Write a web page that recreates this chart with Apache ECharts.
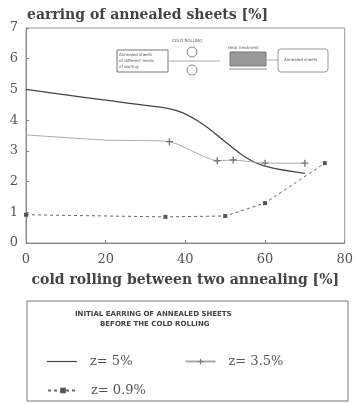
<!DOCTYPE html>
<html><head><meta charset="utf-8">
<script src="https://cdn.jsdelivr.net/npm/echarts@6/dist/echarts.min.js"></script>
<style>html,body{margin:0;padding:0;background:#fff}#c{width:356px;height:404px}</style>
</head><body><div id="c"></div>
<script>
const xTicks = [0, 20, 40, 60, 80];
const yTicks = [0, 1, 2, 3, 4, 5, 6, 7];
const seriesNames = ['z= 5%', 'z= 3.5%', 'z= 0.9%'];
const z5 = [[0, 5.0], [10, 4.82], [20, 4.65], [30, 4.48], [38, 4.3], [44, 3.9], [50, 3.3], [55, 2.8], [60, 2.5], [70, 2.27]];
const z35 = [[0, 3.52], [20, 3.35], [36, 3.3], [48, 2.68], [52, 2.7], [60, 2.6], [70, 2.6]];
const z35Markers = [36, 48, 52, 60, 70];
const z09 = [[0, 0.92], [35, 0.85], [50, 0.88], [60, 1.3], [75, 2.6]];

const plus = 'path://M4,0L6,0L6,4L10,4L10,6L6,6L6,10L4,10L4,6L0,6L0,4L4,4Z';
const hline = 'path://M0,4.4L30,4.4L30,5.6L0,5.6Z';
const chart = echarts.init(document.getElementById('c'));
const serif = 'DejaVu Serif';
chart.setOption({
  animation: false,
  backgroundColor: '#fff',
  title: {
    text: 'earring of annealed sheets [%]',
    left: 22, top: 3,
    textStyle: { fontFamily: serif, fontSize: 14, fontWeight: 'bold', color: '#444' }
  },
  grid: { left: 26, right: 8, top: 28, bottom: 161, show: true, borderColor: '#999', borderWidth: 1 },
  xAxis: {
    type: 'value', min: 0, max: 80, interval: 20,
    name: 'cold rolling between two annealing [%]',
    nameLocation: 'middle', nameGap: 30,
    nameTextStyle: { fontFamily: serif, fontSize: 14, fontWeight: 'bold', color: '#444' },
    axisLine: { lineStyle: { color: '#888' } },
    axisTick: { inside: true, length: 3, lineStyle: { color: '#888' } },
    axisLabel: { fontFamily: serif, fontSize: 13, color: '#555', margin: 10 },
    splitLine: { show: false }
  },
  yAxis: {
    type: 'value', min: 0, max: 7, interval: 1,
    axisLine: { show: true, lineStyle: { color: '#888' } },
    axisTick: { show: true, inside: true, length: 3, lineStyle: { color: '#888' } },
    axisLabel: { fontFamily: serif, fontSize: 13, color: '#555', margin: 8 },
    splitLine: { show: false }
  },
  legend: [
    { data: [{ name: seriesNames[0], icon: hline }, seriesNames[1]], left: 42, top: 350, itemGap: 52, itemWidth: 30, itemHeight: 7,
      textStyle: { fontFamily: serif, fontSize: 13, color: '#555', padding: [0, 0, 0, 8] } },
    { data: [seriesNames[2]], left: 42, top: 379, itemWidth: 30, itemHeight: 7,
      textStyle: { fontFamily: serif, fontSize: 13, color: '#555', padding: [0, 0, 0, 8] } }
  ],
  graphic: [
    { type: 'rect', shape: { x: 27, y: 301, width: 321, height: 100 }, style: { fill: 'none', stroke: '#777', lineWidth: 1 } },
    { type: 'text', left: 75, top: 311, style: { text: 'INITIAL EARRING OF ANNEALED SHEETS', font: 'bold 7px "DejaVu Sans"', fill: '#444' } },
    { type: 'text', left: 100, top: 321, style: { text: 'BEFORE THE COLD ROLLING', font: 'bold 7px "DejaVu Sans"', fill: '#444' } },
    // inset diagram
    { type: 'rect', shape: { x: 117, y: 50, width: 51, height: 22 }, style: { fill: '#fff', stroke: '#777', lineWidth: 1 } },
    { type: 'text', x: 119, y: 52, style: { text: 'Annealed sheets\nof different levels\nof earring', font: '4px "DejaVu Sans"', fill: '#555', lineHeight: 6 } },
    { type: 'text', x: 172, y: 39, style: { text: 'COLD ROLLING', font: '4px "DejaVu Sans"', fill: '#555' } },
    { type: 'circle', shape: { cx: 192, cy: 52, r: 5 }, style: { fill: '#fff', stroke: '#888' } },
    { type: 'circle', shape: { cx: 192, cy: 70, r: 5 }, style: { fill: '#fff', stroke: '#888' } },
    { type: 'line', shape: { x1: 168, y1: 61, x2: 220, y2: 61 }, style: { stroke: '#aaa', lineWidth: 1 } },
    { type: 'text', x: 228, y: 46, style: { text: 'Heat treatment', font: '4px "DejaVu Sans"', fill: '#555' } },
    { type: 'rect', shape: { x: 230, y: 52, width: 36, height: 14 }, style: { fill: '#999', stroke: '#777' } },
    { type: 'line', shape: { x1: 229, y1: 69, x2: 267, y2: 69 }, style: { stroke: '#888', lineWidth: 1 } },
    { type: 'line', shape: { x1: 267, y1: 60, x2: 278, y2: 60 }, style: { stroke: '#aaa', lineWidth: 1 } },
    { type: 'rect', shape: { x: 278, y: 49, width: 50, height: 23, r: 3 }, style: { fill: '#fff', stroke: '#999' } },
    { type: 'text', x: 284, y: 58, style: { text: 'Annealed sheets', font: '4px "DejaVu Sans"', fill: '#555' } }
  ],
  series: [
    { name: seriesNames[0], type: 'line', data: z5, smooth: 0.4, symbol: 'none', showSymbol: false,
      lineStyle: { color: '#444', width: 1.3 }, itemStyle: { color: '#444' } },
    { name: seriesNames[1], type: 'line',
      data: z35.map(p => ({ value: p, symbol: z35Markers.includes(p[0]) ? plus : 'none' })),
      smooth: 0.2, symbol: plus, symbolSize: 7, showAllSymbol: true,
      lineStyle: { color: '#aaa', width: 1 }, itemStyle: { color: '#777' } },
    { name: seriesNames[2], type: 'line', data: z09, symbol: 'rect', symbolSize: 4,
      lineStyle: { color: '#666', width: 1, type: [3, 3] }, itemStyle: { color: '#555' } }
  ]
});
</script></body></html>
